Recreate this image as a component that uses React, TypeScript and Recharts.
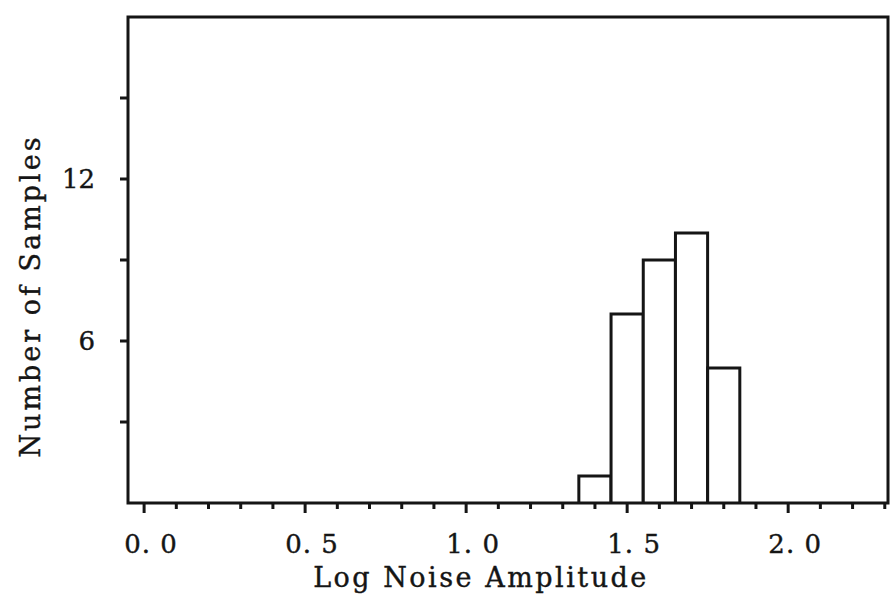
import React from 'react';
import { ComposedChart, Bar, XAxis, YAxis, ReferenceArea, Label } from 'recharts';

// histogram bins (centre of each 0.1 wide bin) and counts
const binCentres = [1.4, 1.5, 1.6, 1.7, 1.8];
const counts = [1, 7, 9, 10, 5];

const xDomain = [-0.05, 2.31];
const yDomain = [0, 18];
const xTicks = [0, 0.1, 0.2, 0.3, 0.4, 0.5, 0.6, 0.7, 0.8, 0.9, 1.0, 1.1, 1.2, 1.3, 1.4, 1.5, 1.6, 1.7, 1.8, 1.9, 2.0, 2.1, 2.2, 2.3];
const xMajor = [0, 0.5, 1.0, 1.5, 2.0];
const xMajorLabels = ['0. 0', '0. 5', '1. 0', '1. 5', '2. 0'];
const yTicks = [3, 6, 9, 12, 15];
const yLabelled = [6, 12];

const data = binCentres.map((x, i) => ({ x, n: counts[i] }));

const W = 896;
const H = 603;
const margin = { top: 17, right: 8, bottom: 0, left: 0 };
const yAxisW = 128;
const xAxisH = 100;
const plotW = W - margin.left - margin.right - yAxisW;
// a hair under the band width, otherwise recharts shrinks the bar to 90%
const barW = (0.1 * plotW) / (xDomain[1] - xDomain[0]) - 0.05;

const ink = '#151515';
const font = '"DejaVu Serif", serif';

const XTick = (props: any) => {
  const { x, y, payload } = props;
  const idx = xMajor.findIndex((m) => Math.abs(m - payload.value) < 1e-6);
  const major = idx >= 0;
  return (
    <g>
      <line x1={x} x2={x} y1={y} y2={y + (major ? 10 : 6)} stroke={ink} strokeWidth={3} />
      {major && (
        <text x={x + 7} y={y + 50} textAnchor="middle" fontSize={26} fontFamily={font} fill={ink}
          stroke={ink} strokeWidth={0.4} letterSpacing={1}>
          {xMajorLabels[idx]}
        </text>
      )}
    </g>
  );
};

const YTick = (props: any) => {
  const { x, y, payload } = props;
  const show = yLabelled.includes(payload.value);
  return (
    <g>
      <line x1={x - 8} x2={x} y1={y} y2={y} stroke={ink} strokeWidth={3} />
      {show && (
        <text x={x - 33} y={y + 9} textAnchor="end" fontSize={26} fontFamily={font} fill={ink}
          stroke={ink} strokeWidth={0.4}>
          {payload.value}
        </text>
      )}
    </g>
  );
};

const renderYLabel = (props: any) => {
  const vb = props.viewBox;
  const cx = vb.x + 30;
  const cy = 296;
  return (
    <text x={cx} y={cy} transform={`rotate(-90 ${cx} ${cy})`} textAnchor="middle" dominantBaseline="central"
      fontSize={27} fontFamily={font} fill={ink} stroke={ink} strokeWidth={0.4} letterSpacing={3}>
      Number of Samples
    </text>
  );
};

const renderXLabel = (props: any) => {
  const vb = props.viewBox;
  return (
    <text x={vb.x + 353} y={vb.y + 84} textAnchor="middle" fontSize={27} fontFamily={font} fill={ink}
      stroke={ink} strokeWidth={0.4} letterSpacing={2.5}>
      Log Noise Amplitude
    </text>
  );
};

export default function App() {
  return (
    <div style={{ position: 'absolute', left: 0, top: 0, background: '#fff' }}>
      <ComposedChart width={W} height={H} data={data} margin={margin}>
        <XAxis
          dataKey="x"
          type="number"
          domain={xDomain}
          ticks={xTicks}
          interval={0}
          allowDataOverflow
          axisLine={false}
          tickLine={false}
          tickSize={0}
          tickMargin={0}
          height={xAxisH}
          tick={<XTick />}
        >
          <Label content={renderXLabel} />
        </XAxis>
        <YAxis
          type="number"
          domain={yDomain}
          ticks={yTicks}
          interval={0}
          allowDataOverflow
          axisLine={false}
          tickLine={false}
          tickSize={0}
          tickMargin={0}
          width={yAxisW}
          tick={<YTick />}
        >
          <Label content={renderYLabel} />
        </YAxis>
        <ReferenceArea x1={xDomain[0]} x2={xDomain[1]} y1={yDomain[0]} y2={yDomain[1]}
          fill="none" stroke={ink} strokeWidth={3} ifOverflow="visible" />
        <Bar dataKey="n" fill="#fff" stroke={ink} strokeWidth={3} barSize={barW} isAnimationActive={false} />
      </ComposedChart>
    </div>
  );
}
